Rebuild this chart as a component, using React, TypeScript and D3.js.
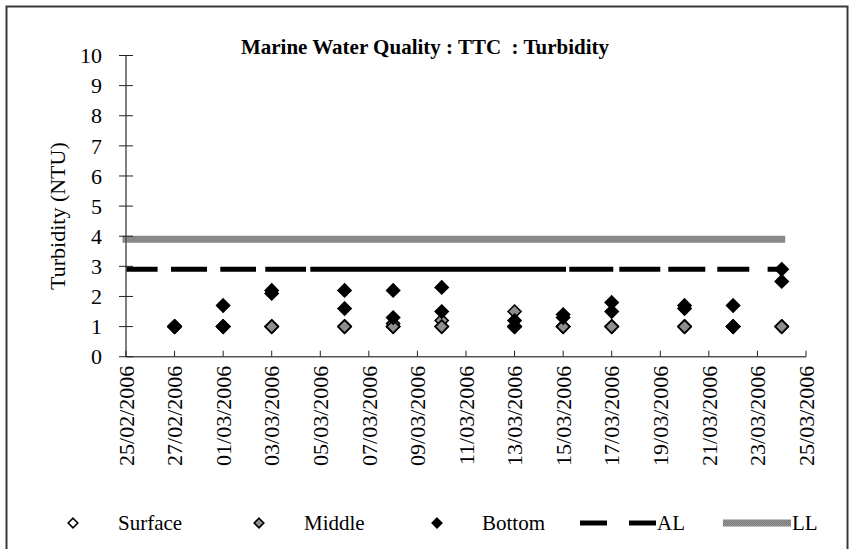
import React from "react";
import * as d3 from "d3";

// sampling dates (two readings per date per depth)
const sampleDates = [
  "27/02/2006", "01/03/2006", "03/03/2006", "06/03/2006", "08/03/2006", "10/03/2006",
  "13/03/2006", "15/03/2006", "17/03/2006", "20/03/2006", "22/03/2006", "24/03/2006",
];
const surface1 = [1, 1, 1, 1, 1, 1, 1, 1, 1, 1, 1, 1];
const surface2 = [1, 1, 1, 1, 1, 1, 1, 1, 1, 1, 1, 1];
const middle1 = [1, 1, 1, 1, 1.1, 1.2, 1.5, 1, 1, 1, 1, 1];
const middle2 = [1, 1, 1, 1, 1, 1, 1, 1, 1, 1, 1, 1];
const bottom1 = [1, 1.7, 2.2, 2.2, 2.2, 2.3, 1.2, 1.4, 1.8, 1.7, 1.7, 2.9];
const bottom2 = [1, 1, 2.1, 1.6, 1.3, 1.5, 1, 1.3, 1.5, 1.6, 1, 2.5];

// limit lines
const limitDates = ["25/02/2006", "24/03/2006"];
const actionLevel = 2.9;
const limitLevel = 3.9;

const xTickLabels = [
  "25/02/2006", "27/02/2006", "01/03/2006", "03/03/2006", "05/03/2006", "07/03/2006",
  "09/03/2006", "11/03/2006", "13/03/2006", "15/03/2006", "17/03/2006", "19/03/2006",
  "21/03/2006", "23/03/2006", "25/03/2006",
];
const yTicks = [0, 1, 2, 3, 4, 5, 6, 7, 8, 9, 10];

const title = "Marine Water Quality : TTC\u00a0 : Turbidity";
const yTitle = "Turbidity (NTU)";

const parse = d3.utcParse("%d/%m/%Y");
const FONT = "'Liberation Serif', 'Times New Roman', Times, 'DejaVu Serif', serif";
// dash pattern of the AL line as it appears in the original
const AL_DASH = "31.6 13.4 36 13.3 35.7 9.3 40.7 4.3 255.7 3.3 44 6 41 8 37 12 32 18.3 14";

const diamond = (r: number) => `M0,${-r}L${r},0L0,${r}L${-r},0Z`;
const txt = { fontFamily: FONT };

const App: React.FC = () => {
  const width = 850;
  const height = 549;
  const left = 126;
  const right = 806;
  const top = 55.5;
  const bottom = 356.7;

  const x = d3
    .scaleUtc()
    .domain([parse(xTickLabels[0])!, parse(xTickLabels[xTickLabels.length - 1])!])
    .range([left, right]);
  const y = d3.scaleLinear().domain([0, 10]).range([bottom, top]);

  const line = d3
    .line<string>()
    .x(d => x(parse(d)!))
    .y(() => 0);

  const series = [
    { name: "Surface", fill: "#ffffff", values: [surface1, surface2] },
    { name: "Middle", fill: "#8f8f8f", values: [middle1, middle2] },
    { name: "Bottom", fill: "#000000", values: [bottom1, bottom2] },
  ];

  const legendY = 523;

  return (
    <svg width={width} height={height} style={{ position: "absolute", left: 0, top: 0, fontFamily: FONT }}>
      <defs>
        <pattern id="llpat" patternUnits="userSpaceOnUse" width="2" height="2">
          <rect width="2" height="2" fill="#9a9a9a" />
          <rect width="1" height="1" fill="#777777" />
          <rect x="1" y="1" width="1" height="1" fill="#777777" />
        </pattern>
      </defs>
      <rect x={0} y={0} width={width} height={height} fill="#fff" />
      <rect x={6.5} y={6.5} width={841} height={600} fill="none" stroke="#3a3a3a" strokeWidth={2} />

      <text x={425} y={54} textAnchor="middle" fontWeight="bold" fontSize={21} style={txt}>
        {title}
      </text>

      {/* limit lines */}
      <path
        d={line(limitDates)!}
        transform={`translate(0,${y(limitLevel)})`}
        stroke="url(#llpat)"
        strokeWidth={7}
        strokeLinecap="square"
        fill="none"
      />
      <path
        d={line(limitDates)!}
        transform={`translate(0,${y(actionLevel)})`}
        stroke="#000"
        strokeWidth={5}
        strokeDasharray={AL_DASH}
        fill="none"
      />

      {/* axes */}
      <line x1={left} x2={left} y1={top} y2={bottom} stroke="#555" strokeWidth={1.5} />
      <line x1={left} x2={right} y1={bottom} y2={bottom} stroke="#555" strokeWidth={1.5} />
      {yTicks.map(t => (
        <g key={t}>
          <line x1={left - 7} x2={left + 7} y1={y(t)} y2={y(t)} stroke="#222" strokeWidth={1} />
          <text x={102} y={y(t)} dy="0.35em" textAnchor="end" fontSize={22} style={txt}>
            {t}
          </text>
        </g>
      ))}
      {xTickLabels.map(l => {
        const xx = x(parse(l)!);
        return (
          <g key={l}>
            <line x1={xx} x2={xx} y1={bottom - 6} y2={bottom} stroke="#222" strokeWidth={1} />
            <text
              transform={`translate(${xx},${bottom + 9}) rotate(-90)`}
              dy="0.35em"
              textAnchor="end"
              fontSize={22}
              style={txt}
            >
              {l}
            </text>
          </g>
        );
      })}
      <text
        transform={`translate(65,${(top + bottom) / 2 + 10}) rotate(-90)`}
        textAnchor="middle"
        fontSize={22}
        style={txt}
      >
        {yTitle}
      </text>

      {/* markers */}
      {series.map(s =>
        s.values.map((vals, k) =>
          vals.map((v, i) => (
            <path
              key={`${s.name}-${k}-${i}`}
              d={diamond(6.5)}
              transform={`translate(${x(parse(sampleDates[i])!)},${y(v)})`}
              fill={s.fill}
              stroke="#000"
              strokeWidth={1.6}
            />
          ))
        )
      )}

      {/* legend */}
      {series.map((s, i) => {
        const lx = [73, 259, 437][i];
        return (
          <g key={s.name}>
            <path d={diamond(4.8)} transform={`translate(${lx},${legendY})`} fill={s.fill} stroke="#000" strokeWidth={1.6} />
            <text x={lx + 45} y={legendY} dy="0.35em" fontSize={21} style={txt}>
              {s.name}
            </text>
          </g>
        );
      })}
      <line x1={580} x2={607} y1={legendY} y2={legendY} stroke="#000" strokeWidth={5} />
      <line x1={629} x2={656} y1={legendY} y2={legendY} stroke="#000" strokeWidth={5} />
      <text x={657} y={legendY} dy="0.35em" fontSize={21} style={txt}>
        AL
      </text>
      <rect x={723} y={legendY - 3.5} width={68} height={7} fill="url(#llpat)" />
      <text x={792} y={legendY} dy="0.35em" fontSize={21} style={txt}>
        LL
      </text>
    </svg>
  );
};

export default App;
